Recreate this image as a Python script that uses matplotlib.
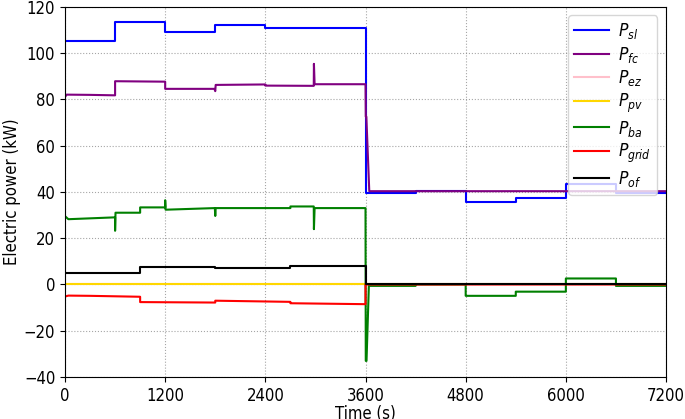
import numpy as np
import matplotlib
matplotlib.use('Agg')
import matplotlib.pyplot as plt

plt.rcParams['font.family'] = 'DejaVu Sans'
plt.rcParams['font.stretch'] = 'condensed'
plt.rcParams['mathtext.fontset'] = 'custom'
plt.rcParams['mathtext.rm'] = 'DejaVu Sans:stretch=condensed'
plt.rcParams['mathtext.it'] = 'DejaVu Sans:italic:stretch=condensed'

# time / value breakpoints (kW)
t_sl = [0, 600, 600, 1200, 1200, 1800, 1800, 2400, 2400, 3600, 3600, 4200, 4200, 4800, 4800, 5400, 5400, 6000, 6000, 6600, 6600, 7200]
p_sl = [105, 105, 113.2, 113.2, 109.1, 109.1, 112.2, 112.2, 110.8, 110.8, 39.6, 39.6, 40.2, 40.2, 35.5, 35.5, 37.2, 37.2, 43.2, 43.2, 39.6, 39.6]

t_fc = [0, 20, 300, 600, 600, 1200, 1200, 1790, 1800, 1805, 2400, 2400, 2980, 2982, 2990, 3600, 3603, 3610, 3645, 7200]
p_fc = [81, 82, 81.9, 81.7, 87.8, 87.6, 84.5, 84.5, 83.5, 86.2, 86.4, 85.9, 85.8, 95.3, 86.5, 86.5, 72.5, 72.5, 40.3, 40.3]

t_ez = [0, 7200]
p_ez = [0, 0]

t_pv = [0, 7200]
p_pv = [0, 0]

t_ba = [0, 40, 600, 600, 605, 900, 900, 1200, 1200, 1205, 1795, 1800, 1805, 2700, 2700, 2980, 2982, 2990,
        3600, 3603, 3612, 3640, 4200, 4200, 4800, 4800, 5400, 5400, 6000, 6000, 6600, 6600, 7200]
p_ba = [29.5, 28.2, 29, 23.2, 31, 31, 33.3, 33.3, 36.4, 32.3, 33, 29.6, 33, 33, 33.7, 33.7, 23.9, 33,
        33, -33, -33, -0.6, -0.6, 0, 0, -4.9, -4.9, -3.1, -3.1, 2.6, 2.6, -0.6, -0.6]

t_grid = [0, 40, 300, 900, 900, 1800, 1800, 2700, 2700, 3600, 3600, 7200]
p_grid = [-5.2, -4.8, -4.9, -5.3, -7.6, -7.8, -7.0, -7.5, -8.1, -8.5, 0, 0]

t_of = [0, 900, 900, 1800, 1800, 2700, 2700, 3600, 3600, 7200]
p_of = [5, 5, 7.6, 7.6, 7.2, 7.2, 8.1, 8.1, 0, 0]

fig = plt.figure(figsize=(6.85, 4.19), dpi=100)
ax = fig.add_axes([0.0949, 0.1, 0.8774, 0.8841])

ax.plot(t_sl, p_sl, color='blue', lw=1.5, label=r'$P_{sl}$')
ax.plot(t_fc, p_fc, color='purple', lw=1.5, label=r'$P_{fc}$')
ax.plot(t_ez, p_ez, color='pink', lw=1.5, label=r'$P_{ez}$')
ax.plot(t_pv, p_pv, color='gold', lw=1.5, label=r'$P_{pv}$')
ax.plot(t_ba, p_ba, color='green', lw=1.5, label=r'$P_{ba}$')
ax.plot(t_grid, p_grid, color='red', lw=1.5, label=r'$P_{grid}$')
ax.plot(t_of, p_of, color='black', lw=1.5, label=r'$P_{of}$')

ax.set_xlim(0, 7200)
ax.set_ylim(-40, 120)
ax.set_xticks(np.arange(0, 7201, 1200))
ax.set_yticks(np.arange(-40, 121, 20))
ax.tick_params(labelsize=12)
ax.set_xlabel('Time (s)', fontsize=12, labelpad=0)
ax.set_ylabel('Electric power (kW)', fontsize=12, labelpad=2)
ax.grid(True, linestyle=':', color='gray', alpha=0.7)
ax.legend(loc='upper right', fontsize=12.5, labelspacing=0.2, borderpad=0.35,
          handletextpad=0.55, handlelength=2.0)

fig.savefig('out.png', dpi=100)
